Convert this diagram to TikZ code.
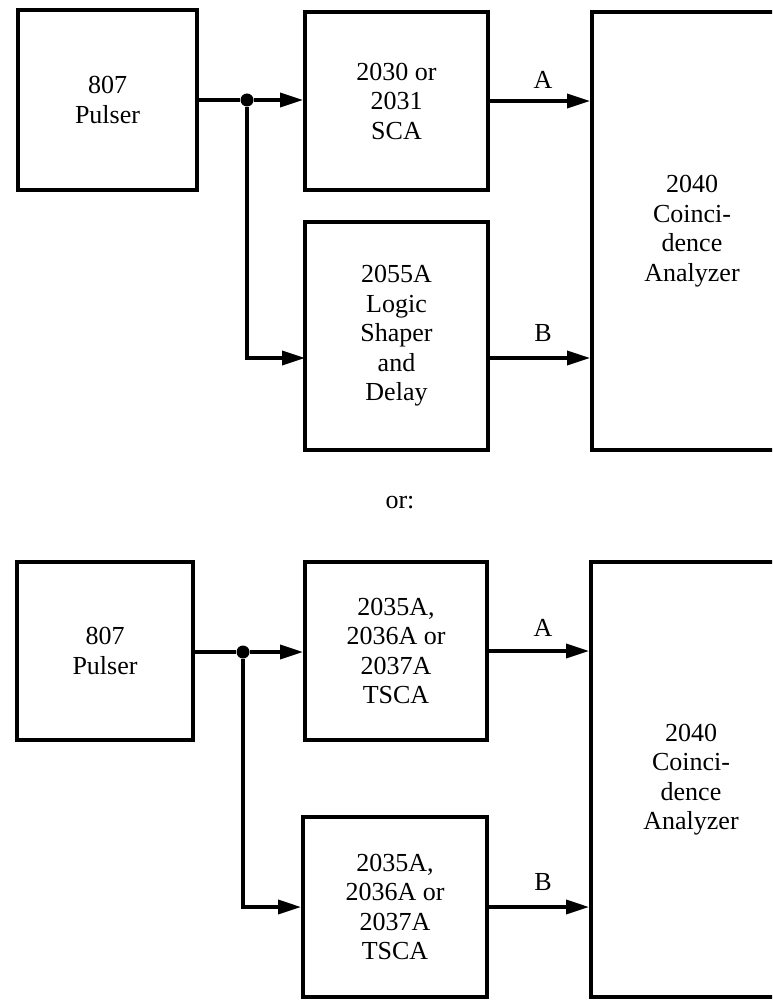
\documentclass[tikz,border=0pt]{standalone}
\usepackage{fontspec}
\setmainfont{Liberation Serif}
\usetikzlibrary{arrows.meta}
\begin{document}
\begin{tikzpicture}[x=1pt,y=-1pt,
  box/.style={draw, line width=4pt, inner sep=0pt, align=center,
    font=\fontsize{26}{29.5}\selectfont},
  conn/.style={line width=3.5pt, -{Triangle[length=23pt,width=14pt]}},
  wire/.style={line width=3.5pt},
  lbl/.style={font=\fontsize{26}{29.5}\selectfont},
  dot/.style={circle, fill=black, inner sep=0pt, minimum size=13pt}]
\useasboundingbox (0,0) rectangle (772,1000);
\clip (0,0) rectangle (772,1000);
% ---- upper arrangement ----
\node[box, minimum width=179pt, minimum height=180pt] (P1) at (107.5,100) {807\\Pulser};
\node[box, minimum width=183pt, minimum height=178pt] (S1) at (396.5,101) {2030 or\\2031\\SCA};
\node[box, minimum width=183pt, minimum height=228pt] (L1) at (396.5,336) {2055A\\Logic\\Shaper\\and\\Delay};
\node[box, minimum width=200pt, minimum height=438pt] (C1) at (692,231) {2040\\Coinci-\\dence\\Analyzer};
\node[dot] (J1) at (247,100) {};
\coordinate (L1in) at (305,358);
\coordinate (L1out) at (488,358);
\draw[wire] (P1.east |- J1) -- (J1);
\draw[conn] (J1) -- (J1 -| S1.west);
\draw[conn] (J1) |- (L1in);
\draw[conn] (S1.east) -- (S1.east -| C1.west);
\draw[conn] (L1out) -- (L1out -| C1.west);
\node[lbl] (LA1) at (543,80) {A};
\node[lbl] (LB1) at (543,333) {B};
% ---- separator ----
\node[lbl] (OR) at (400,503) {or:};
% ---- lower arrangement ----
\node[box, minimum width=176pt, minimum height=178pt] (P2) at (105,651) {807\\Pulser};
\node[box, minimum width=182pt, minimum height=178pt] (T1) at (396,651) {2035A,\\2036A or\\2037A\\TSCA};
\node[box, minimum width=184pt, minimum height=180pt] (T2) at (395,907) {2035A,\\2036A or\\2037A\\TSCA};
\node[box, minimum width=200pt, minimum height=435pt] (C2) at (691,779.5) {2040\\Coinci-\\dence\\Analyzer};
\node[dot] (J2) at (243,652) {};
\draw[wire] (P2.east |- J2) -- (J2);
\draw[conn] (J2) -- (J2 -| T1.west);
\draw[conn] (J2) |- (T2.west);
\draw[conn] (T1.east) -- (T1.east -| C2.west);
\draw[conn] (T2.east) -- (T2.east -| C2.west);
\node[lbl] (LA2) at (543,628) {A};
\node[lbl] (LB2) at (543,882) {B};
\end{tikzpicture}
\end{document}
